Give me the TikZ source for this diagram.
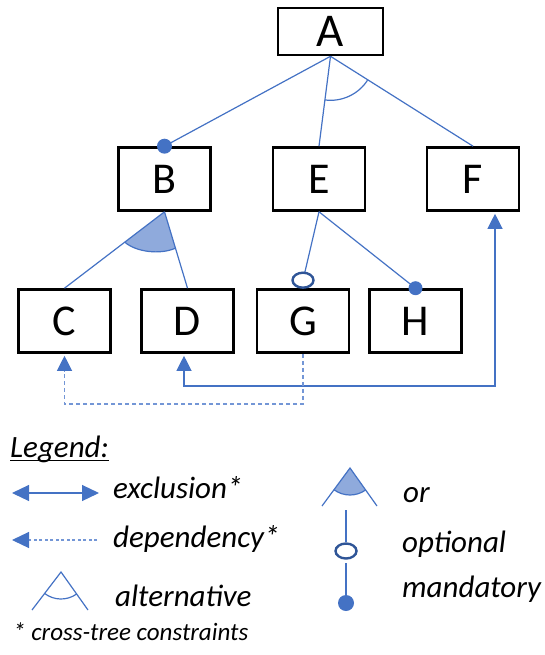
\documentclass[tikz,border=0pt]{standalone}
\usepackage{fontspec}
\setmainfont{Carlito}
\usetikzlibrary{arrows.meta,calc,shapes.geometric}
\definecolor{fmblue}{HTML}{4472C4}
\definecolor{fmfill}{HTML}{8FAADC}
\definecolor{fmdark}{HTML}{2F5597}
\definecolor{fmdash}{HTML}{7396D6}
\tikzset{
  headtip/.tip={Triangle[length=15pt,width=15pt,color=fmblue]},
  legtip/.tip={Triangle[length=17pt,width=16pt,color=fmblue]}
}

\begin{document}
\begin{tikzpicture}[x=1pt,y=-1pt,
  feature/.style={draw=black, line width=2.6pt, minimum width=92pt, minimum height=63pt,
    inner sep=0pt, font=\fontsize{44}{44}\selectfont},
  link/.style={draw=fmblue, line width=1.2pt},
  crosslink/.style={draw=fmdash, line width=1.2pt, dash pattern=on 4pt off 3pt},
  mandot/.style={circle, fill=fmblue, minimum size=15pt, inner sep=0pt},
  optring/.style={ellipse, draw=fmdark, line width=2.4pt, fill=white,
    minimum width=21pt, minimum height=15pt, inner sep=0pt},
  legtext/.style={anchor=base west, inner sep=0pt, font=\fontsize{31}{36}\selectfont\itshape},
  notetext/.style={anchor=base west, inner sep=0pt, font=\fontsize{25}{30}\selectfont\itshape}
]
\useasboundingbox (0,0) rectangle (544,655);

% feature tree
\node[feature, minimum width=105pt, minimum height=47pt, font=\fontsize{47}{47}\selectfont] (A) at (330.5,31.5) {A};
\node[feature] (B) at (164.5,179) {B};
\node[feature] (E) at (319,179) {E};
\node[feature] (F) at (473,179) {F};
\node[feature] (C) at (64.5,321) {C};
\node[feature] (D) at (187.5,321) {D};
\node[feature] (G) at (303,321) {G};
\node[feature] (H) at (415.5,321) {H};

% A: mandatory B, alternative group E / F
\draw[link] (A.south) -- (B.north);
\node[mandot] (Bdot) at (B.north) {};
\draw[link] (A.south) -- (E.north);
\draw[link] (A.south) -- (F.north);
\draw[link] ($(A.south)!44pt!(E.north)$) arc[start angle=-97.4, end angle=-32.9, radius=44pt];

% B: or group C / D
\coordinate (orL) at ($(B.south)!50pt!(C.north)$);
\coordinate (orR) at ($(B.south)!38pt!(D.north)$);
\fill[fmfill] (B.south) -- (orL) .. controls (136,252) and (160,255) .. (orR) -- cycle;
\draw[link] (orL) .. controls (136,252) and (160,255) .. (orR);
\draw[link] (B.south) -- (C.north);
\draw[link] (B.south) -- (D.north);

% E: optional G, mandatory H
\draw[link] (E.south) -- ([yshift=8pt]G.north);
\node[optring] (Gring) at ([yshift=8pt]G.north) {};
\draw[link] (E.south) -- (H.north);
\node[mandot, minimum size=14pt] (Hdot) at (H.north) {};

% cross-tree constraints
\coordinate (exD) at ([xshift=-3.5pt,yshift=-2pt]D.south);
\coordinate (exF) at ([xshift=22pt,yshift=-2pt]F.south);
\coordinate (exLow) at (495,386);
\draw[link, headtip-headtip] (exD) |- (exLow) -- (exF);
\coordinate (dpC) at ([yshift=-2pt]C.south);
\coordinate (dpLow) at (64.5,404);
\draw[crosslink, -headtip] (G.south) |- (dpLow) -- (dpC);

% legend
\node[legtext] (leg) at (10,457) {Legend:};
\draw[line width=1.6pt] ([yshift=-3.5pt]leg.base west) -- ([yshift=-3.5pt]leg.base east);

\coordinate (xl) at (12,493);
\coordinate (xr) at (99,493);
\draw[link, legtip-legtip] (xl) -- (xr);
\node[legtext] (lexcl) at (113,498) {exclusion*};

\coordinate (dl) at (12,540);
\coordinate (dr) at (97,540);
\draw[crosslink, dash pattern=on 3pt off 2.5pt, -legtip] (dr) -- (dl);
\node[legtext] (ldep) at (113,547) {dependency*};

\coordinate (alA) at (61,572);
\draw[link] (32,610) -- (alA) -- (88,610);
\draw[link] ($(alA)+(-127.3:27pt)$) arc[start angle=-127.3, end angle=-54.6, radius=27pt];
\node[legtext] (lalt) at (115,606) {alternative};

\node[notetext] (lnote) at (13,640) {* cross-tree constraints};

\coordinate (orA) at (350,468);
\fill[fmfill] (orA) -- ($(orA)+(-126.4:27pt)$) arc[start angle=-126.4, end angle=-54.6, radius=27pt] -- cycle;
\draw[link] ($(orA)+(-126.4:27pt)$) arc[start angle=-126.4, end angle=-54.6, radius=27pt];
\draw[link] (322,506) -- (orA) -- (377,506);
\node[legtext] (lor) at (403,502) {or};

\coordinate (opTop) at (346,510);
\node[optring] (opRing) at (346,551) {};
\draw[link] (opTop) -- (opRing.north);
\node[legtext] (lopt) at (402,552) {optional};

\coordinate (maTop) at (346,563);
\node[mandot, minimum size=16pt] (maDot) at (346,603) {};
\draw[link] (maTop) -- (maDot.north);
\node[legtext] (lman) at (402,597) {mandatory};
\end{tikzpicture}
\end{document}
